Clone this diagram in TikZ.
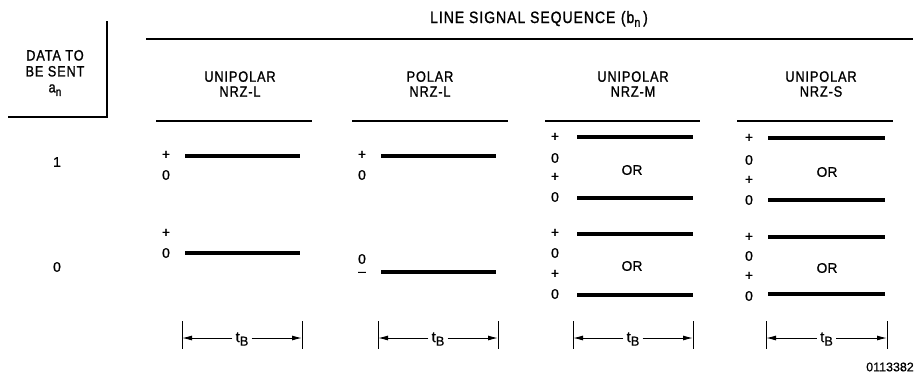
\documentclass[tikz,border=0pt]{standalone}
\usepackage{fontspec}
\setmainfont{Liberation Sans}[RawFeature={embolden=0.7}]
\newfontfamily\hdrfont{Liberation Sans}[LetterSpace=6,FakeStretch=0.85,RawFeature={embolden=1.2}]
\usetikzlibrary{arrows.meta}
\newcommand\mysub[1]{\raisebox{-0.45ex}{\fontsize{12}{12}\selectfont #1}}
\newcommand\mysubb[1]{\raisebox{-0.45ex}{\fontsize{13}{13}\selectfont #1}}
\begin{document}
\begin{tikzpicture}[x=1bp,y=-1bp,
  hdr/.style={font=\hdrfont\fontsize{15}{15}\selectfont, align=center, inner sep=0pt},
  lbl/.style={font=\fontsize{14}{16}\selectfont, inner sep=0pt},
  rulel/.style={line width=1.8bp},
  sig/.style={line width=3.6bp},
  tickl/.style={line width=1bp},
  dimarr/.style={line width=1bp, -{Latex[length=10bp,width=5bp]}}]
\useasboundingbox (0,0) rectangle (916,379);
% corner
\coordinate (c1) at (107,21);
\coordinate (c2) at (107,117);
\coordinate (c3) at (8,117);
\draw[rulel] (c1) -- (c2) -- (c3);
\node[hdr] (data) at (55,73) {DATA TO\\[1bp]BE SENT\\[1bp]a\mysub{n}};
% title
\node[hdr, font=\hdrfont\fontsize{16.5}{16.5}\selectfont] (title) at (539,19) {LINE SIGNAL SEQUENCE\,\,(b\mysubb{n}\,)};
\coordinate (t1) at (146,39);
\coordinate (t2) at (913,39);
\draw[rulel] (t1) -- (t2);
% column headers
\node[hdr] (h1) at (240,84) {UNIPOLAR\\NRZ-L};
\node[hdr] (h2) at (430,84) {POLAR\\NRZ-L};
\node[hdr] (h3) at (633,84) {UNIPOLAR\\NRZ-M};
\node[hdr] (h4) at (821,84) {UNIPOLAR\\NRZ-S};
\draw[rulel] (156,121) coordinate (u1a) -- (312,121) coordinate (u1b);
\draw[rulel] (352,121) coordinate (u2a) -- (508,121) coordinate (u2b);
\draw[rulel] (545,121) coordinate (u3a) -- (700,121) coordinate (u3b);
\draw[rulel] (737,121) coordinate (u4a) -- (893,121) coordinate (u4b);
% data values
\node[lbl] (d1) at (57,162) {1};
\node[lbl] (d0) at (57,267) {0};
% column 1
\node[lbl] (a1p) at (166,155) {+};
\node[lbl] (a1z) at (166,175) {0};
\draw[sig] (185,156) -- (300,156);
\node[lbl] (a0p) at (166,233) {+};
\node[lbl] (a0z) at (166,253) {0};
\draw[sig] (185,253) -- (300,253);
% column 2
\node[lbl] (b1p) at (362,155) {+};
\node[lbl] (b1z) at (362,175) {0};
\draw[sig] (381,156) -- (496,156);
\node[lbl] (b0z) at (362,259) {0};
\node[lbl] (b0m) at (362,274) {–};
\draw[sig] (381,272) -- (496,272);
% column 3
\node[lbl] (c1p) at (555,137) {+};
\node[lbl] (c1z) at (555,158) {0};
\node[lbl] (c1q) at (555,177) {+};
\node[lbl] (c1y) at (555,197) {0};
\draw[sig] (577,137) -- (693,137);
\draw[sig] (577,198) -- (693,198);
\node[lbl] (c1or) at (632,170) {OR};
\node[lbl] (c0p) at (555,233) {+};
\node[lbl] (c0z) at (555,253) {0};
\node[lbl] (c0q) at (555,274) {+};
\node[lbl] (c0y) at (555,294) {0};
\draw[sig] (577,234) -- (693,234);
\draw[sig] (577,295) -- (693,295);
\node[lbl] (c0or) at (632,266) {OR};
% column 4
\node[lbl] (e1p) at (749,138) {+};
\node[lbl] (e1z) at (749,160) {0};
\node[lbl] (e1q) at (749,180) {+};
\node[lbl] (e1y) at (749,200) {0};
\draw[sig] (768,138) -- (885,138);
\draw[sig] (768,200) -- (885,200);
\node[lbl] (e1or) at (827,172) {OR};
\node[lbl] (e0p) at (749,237) {+};
\node[lbl] (e0z) at (749,256) {0};
\node[lbl] (e0q) at (749,276) {+};
\node[lbl] (e0y) at (749,296) {0};
\draw[sig] (768,237) -- (885,237);
\draw[sig] (768,294) -- (885,294);
\node[lbl] (e0or) at (827,268) {OR};
% dimensions
\foreach \n/\xa/\xb in {1/182/302, 2/378/498, 3/573/693, 4/766/887}{
  \draw[tickl] (\xa,321) -- (\xa,349);
  \draw[tickl] (\xb,321) -- (\xb,349);
  \coordinate (L\n) at (\xa,338);
  \coordinate (R\n) at (\xb,338);
  \node[lbl, font=\fontsize{15}{16}\selectfont, inner xsep=3bp] (tb\n) at ({(\xa+\xb)/2},339) {t\mysubb{B}};
  \draw[dimarr] (tb\n.west |- L\n) -- (L\n);
  \draw[dimarr] (tb\n.east |- R\n) -- (R\n);
}
\node[lbl, font=\fontsize{12.5}{14}\selectfont] (code) at (890,367) {0113382};
\end{tikzpicture}
\end{document}
